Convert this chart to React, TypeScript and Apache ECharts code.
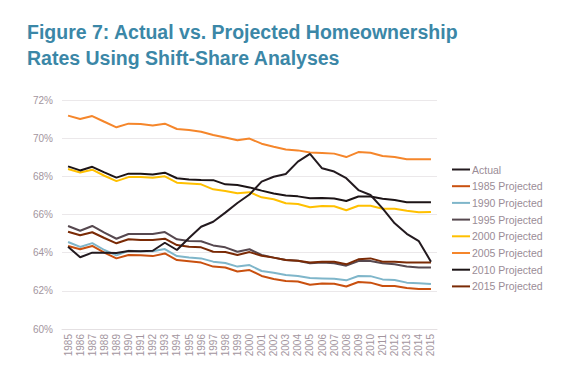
import React, { useEffect, useRef } from "react";
import * as echarts from "echarts";

const years = Array.from({ length: 31 }, (_, i) => String(1985 + i));

const actual = [64.31, 63.76, 64.0, 64.0, 63.98, 64.09, 64.07, 64.1, 64.52, 64.14, 64.77, 65.36, 65.62, 66.1, 66.6, 67.05, 67.72, 67.98, 68.12, 68.77, 69.18, 68.42, 68.25, 67.9, 67.28, 67.02, 66.32, 65.54, 64.99, 64.6, 63.53];
const p1985 = [64.35, 64.18, 64.35, 64.0, 63.7, 63.88, 63.86, 63.82, 63.96, 63.61, 63.55, 63.48, 63.27, 63.22, 63.01, 63.09, 62.78, 62.62, 62.51, 62.49, 62.32, 62.39, 62.37, 62.23, 62.46, 62.43, 62.25, 62.25, 62.15, 62.1, 62.1];
const p1990 = [64.56, 64.3, 64.5, 64.14, 63.86, 64.1, 64.08, 64.08, 64.19, 63.82, 63.75, 63.7, 63.53, 63.46, 63.27, 63.35, 63.04, 62.95, 62.83, 62.78, 62.67, 62.65, 62.63, 62.55, 62.78, 62.77, 62.6, 62.57, 62.43, 62.4, 62.36];
const p1995 = [65.4, 65.15, 65.4, 65.05, 64.73, 64.98, 64.98, 64.98, 65.08, 64.7, 64.61, 64.6, 64.38, 64.28, 64.05, 64.18, 63.88, 63.74, 63.62, 63.58, 63.44, 63.48, 63.44, 63.32, 63.56, 63.56, 63.44, 63.39, 63.27, 63.22, 63.22];
const p2000 = [68.38, 68.2, 68.35, 68.03, 67.75, 67.96, 67.96, 67.93, 68.0, 67.67, 67.63, 67.58, 67.32, 67.23, 67.11, 67.17, 66.9, 66.8, 66.59, 66.55, 66.38, 66.45, 66.43, 66.22, 66.46, 66.46, 66.3, 66.3, 66.2, 66.12, 66.13];
const p2005 = [71.18, 71.0, 71.16, 70.86, 70.57, 70.76, 70.74, 70.66, 70.76, 70.48, 70.43, 70.34, 70.17, 70.03, 69.89, 69.98, 69.71, 69.55, 69.41, 69.36, 69.25, 69.22, 69.19, 69.01, 69.27, 69.24, 69.07, 69.01, 68.9, 68.9, 68.9];
const p2010 = [68.52, 68.31, 68.5, 68.21, 67.93, 68.14, 68.14, 68.1, 68.19, 67.9, 67.84, 67.81, 67.8, 67.58, 67.55, 67.42, 67.25, 67.1, 67.0, 66.95, 66.85, 66.86, 66.84, 66.71, 66.94, 66.94, 66.82, 66.76, 66.64, 66.64, 66.64];
const p2015 = [65.1, 64.91, 65.07, 64.77, 64.49, 64.7, 64.66, 64.66, 64.73, 64.4, 64.31, 64.28, 64.05, 64.03, 63.88, 64.03, 63.84, 63.74, 63.62, 63.58, 63.48, 63.53, 63.52, 63.39, 63.65, 63.7, 63.53, 63.53, 63.49, 63.49, 63.49];

const seriesNames = ["Actual", "1985 Projected", "1990 Projected", "1995 Projected", "2000 Projected", "2005 Projected", "2010 Projected", "2015 Projected"];
const seriesData = [actual, p1985, p1990, p1995, p2000, p2005, p2010, p2015];
const seriesColors = ["#231a1f", "#c9500f", "#7fb6ca", "#56484f", "#ffc000", "#f5862b", "#1c1416", "#7a2a05"];

const font = "Liberation Sans, Arial, sans-serif";
const labelColor = "#a3959e";

export default function App() {
  const ref = useRef<HTMLDivElement>(null);
  useEffect(() => {
    if (!ref.current) return;
    const chart = echarts.init(ref.current, null, { renderer: "svg" });
    const drawOrder = [5, 4, 6, 3, 7, 2, 1, 0];
    chart.setOption({
      animation: false,
      backgroundColor: "#ffffff",
      textStyle: { fontFamily: font },
      title: {
        text: "Figure 7: Actual vs. Projected Homeownership\nRates Using Shift-Share Analyses",
        left: 27,
        top: 19,
        padding: 0,
        textStyle: {
          fontFamily: font,
          fontSize: 19.5,
          fontWeight: "bold",
          color: "#3b87a7",
          lineHeight: 26,
        },
      },
      legend: {
        orient: "vertical",
        left: 452,
        top: 164,
        icon: "rect",
        itemWidth: 18,
        itemHeight: 2,
        itemGap: 5.7,
        padding: 0,
        data: seriesNames,
        textStyle: { color: "#9a8c96", fontSize: 10.5, fontFamily: font, padding: [0, 0, 0, -3] },
      },
      grid: { left: 62, top: 100, width: 375, height: 229 },
      xAxis: {
        type: "category",
        data: years,
        boundaryGap: true,
        axisLine: { show: true, lineStyle: { color: "#e4e0e2", width: 1 } },
        axisTick: { show: false },
        axisLabel: {
          rotate: 90,
          interval: 0,
          color: labelColor,
          fontSize: 10,
          fontFamily: font,
          margin: 5,
        },
      },
      yAxis: {
        type: "value",
        min: 60,
        max: 72,
        interval: 2,
        axisLine: { show: false },
        axisTick: { show: false },
        splitLine: { lineStyle: { color: "#ebe8ea", width: 1 } },
        axisLabel: {
          formatter: "{value}%",
          color: labelColor,
          fontSize: 10,
          fontFamily: font,
          margin: 9,
        },
      },
      series: drawOrder.map((i) => ({
        name: seriesNames[i],
        type: "line",
        data: seriesData[i],
        showSymbol: false,
        symbol: "none",
        color: seriesColors[i],
        lineStyle: { width: 2, color: seriesColors[i] },
        z: 2,
      })),
    });
    return () => chart.dispose();
  }, []);
  return (
    <div
      ref={ref}
      style={{ position: "fixed", left: 0, top: 0, width: 576, height: 370, background: "#fff" }}
    />
  );
}
